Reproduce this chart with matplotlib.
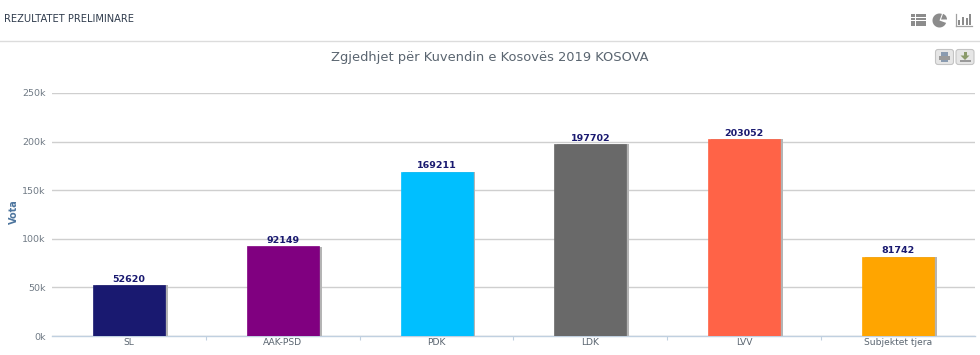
import matplotlib
matplotlib.use("Agg")
import matplotlib.pyplot as plt
import matplotlib.patheffects as pe
from matplotlib.patches import Rectangle, Wedge, FancyBboxPatch

categories = ["SL", "AAK-PSD", "PDK", "LDK", "LVV", "Subjektet tjera"]
votes = [52620, 92149, 169211, 197702, 203052, 81742]
bar_colors = ["#191970", "#800080", "#00BFFF", "#696969", "#FF6347", "#FFA500"]
y_ticks = [0, 50000, 100000, 150000, 200000, 250000]
y_tick_labels = ["0k", "50k", "100k", "150k", "200k", "250k"]

W, H = 980, 355
plt.rcParams["font.family"] = ["DejaVu Sans"]

fig = plt.figure(figsize=(W / 100, H / 100), dpi=100, facecolor="white")

## overlay in pixel coords for the page header and buttons
bg = fig.add_axes([0, 0, 1, 1])
bg.set_xlim(0, W)
bg.set_ylim(H, 0)
bg.axis("off")
bg.plot([0, W], [40.5, 40.5], color="#dcdcdc", lw=1)
bg.text(4, 19, "REZULTATET PRELIMINARE", fontsize=7.1, color="#2f3b4c", va="center", ha="left")
bg.text(490, 57, "Zgjedhjet për Kuvendin e Kosovës 2019 KOSOVA", fontsize=9.35,
	color="#5a6570", va="center", ha="center")

icon = "#8c8c8c"
## list icon
for yy in [15.5, 19, 22.5, 25]:
	bg.add_patch(Rectangle((911, yy - 1.2), 4, 2.4, color=icon, lw=0))
	bg.add_patch(Rectangle((916, yy - 1.2), 10, 2.4, color=icon, lw=0))
## pie icon
bg.add_patch(Wedge((939.5, 20.5), 7, 20, 290, color=icon, lw=0))
bg.add_patch(Wedge((941, 19.5), 6, 290, 360, color=icon, lw=0))
## bars icon
for xx, hh in zip([958, 962, 966, 969], [5, 8, 7, 11]):
	bg.add_patch(Rectangle((xx, 24.5 - hh), 2.4, hh, color=icon, lw=0))
bg.plot([956, 972], [25.5, 25.5], color="#a0a0a0", lw=0.9)
bg.plot([956, 956], [14, 25.5], color="#a0a0a0", lw=0.9)
## print and download buttons
for xx in [935.5, 956]:
	bg.add_patch(FancyBboxPatch((xx, 49.5), 18, 15, boxstyle="round,pad=0,rounding_size=2.5",
		facecolor="#e6e6e6", edgecolor="#c4c4c4", lw=0.8))
bg.add_patch(Rectangle((941, 52), 7, 4, color="#8a9bb0", lw=0))
bg.add_patch(Rectangle((939, 56), 11, 3.5, color="#9a9a9a", lw=0))
bg.add_patch(Rectangle((941, 59.5), 7, 2.5, color="#8a9bb0", lw=0))
bg.add_patch(Rectangle((963.5, 52), 3, 4, color="#8a9a6a", lw=0))
bg.fill([960.5, 969.5, 965], [55.5, 55.5, 60], color="#8a9a6a", lw=0)
bg.add_patch(Rectangle((959.5, 60), 11, 2, color="#9a9a9a", lw=0))

## plot area
left, right, top, bottom = 52, 975, 93, 336
ax = fig.add_axes([left / W, 1 - bottom / H, (right - left) / W, (bottom - top) / H])
ax.patch.set_alpha(0)
x = range(len(categories))
bars = ax.bar(
	x,
	votes,
	width=0.468,
	color=bar_colors,
	edgecolor=bar_colors,
	linewidth=0.5,
	zorder=3,
	)
for bar in bars:
	bar.set_path_effects([
		pe.SimplePatchShadow(offset=(2, -0.3), shadow_rgbFace="#b4b4b4", alpha=1),
		pe.Normal(),
		])
for xi, v in zip(x, votes):
	ax.annotate(
		str(v),
		(xi, v),
		xytext=(0, 0.8),
		textcoords="offset points",
		ha="center",
		va="bottom",
		fontsize=6.8,
		fontweight="bold",
		color="#191970",
		zorder=4,
		)

## format plot
ax.set_xlim(-0.5, len(categories) - 0.5)
ax.set_ylim(0, 250000)
ax.set_yticks(y_ticks)
ax.set_yticklabels(y_tick_labels)
ax.set_xticks(list(x))
ax.set_xticklabels(categories)
ax.set_xticks([i + 0.5 for i in range(len(categories) - 1)], minor=True)
ax.tick_params(axis="y", length=0, pad=4.5, labelsize=6.8, labelcolor="#707a85")
ax.tick_params(axis="x", which="major", length=0, pad=1.5, labelsize=6.6, labelcolor="#5a6570")
ax.tick_params(axis="x", which="minor", length=3, width=0.8, color="#c0d0e0")
ax.grid(axis="y", color="#cfcfcf", linewidth=1, zorder=0)
ax.set_axisbelow(True)
for s in ["top", "right", "left"]:
	ax.spines[s].set_visible(False)
ax.spines["bottom"].set_color("#c0d0e0")
ax.spines["bottom"].set_linewidth(1)
ax.set_ylabel("Vota", fontsize=7, fontweight="bold", color="#4d759e")
ax.yaxis.set_label_coords((19 - left) / (right - left), 0.51)

fig.savefig("out.png", dpi=100)
plt.close()
